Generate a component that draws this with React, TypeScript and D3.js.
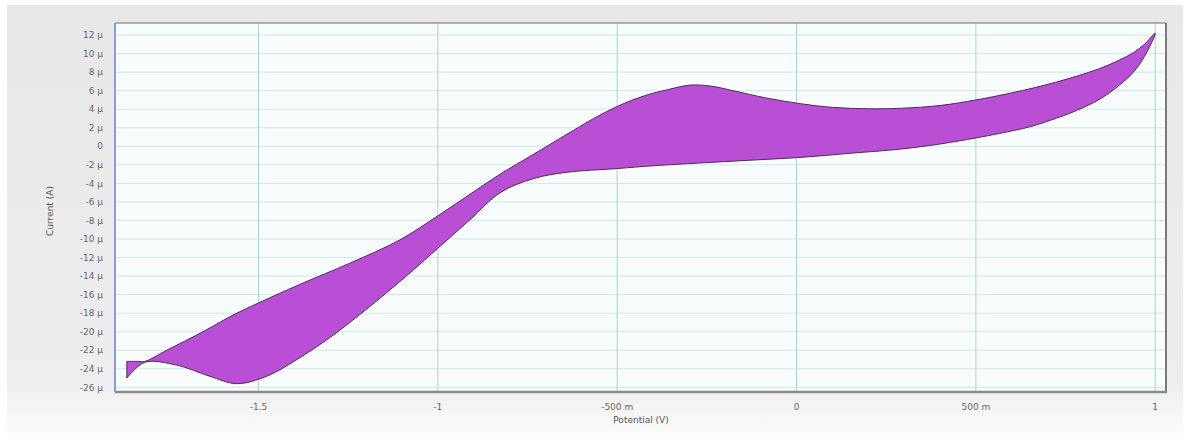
import * as d3 from "d3";

// forward scan (upper branch), potential in V, current in µA
const fwdV = [-1.867, -1.835, -1.817, -1.756, -1.65, -1.571, -1.5, -1.385, -1.245, -1.106, -1.0, -0.9, -0.826, -0.735, -0.64, -0.57, -0.5, -0.42, -0.36, -0.297, -0.24, -0.177, -0.083, 0.01, 0.1, 0.2, 0.29, 0.4, 0.5, 0.567, 0.65, 0.707, 0.78, 0.846, 0.9, 0.939, 0.97, 1.0];
const fwdI = [-23.2, -23.2, -23.2, -22.0, -19.9, -18.2, -16.9, -14.9, -12.6, -10.1, -7.5, -4.9, -3.0, -0.9, 1.3, 2.9, 4.3, 5.5, 6.1, 6.6, 6.5, 6.0, 5.2, 4.6, 4.2, 4.05, 4.1, 4.4, 5.0, 5.5, 6.2, 6.75, 7.55, 8.4, 9.3, 10.1, 11.0, 12.2];

// reverse scan (lower branch), going back from 1 V
const revV = [0.97, 0.939, 0.9, 0.846, 0.78, 0.707, 0.65, 0.567, 0.5, 0.4, 0.29, 0.15, 0.01, -0.13, -0.27, -0.4, -0.5, -0.64, -0.735, -0.826, -0.91, -1.0, -1.1, -1.2, -1.3, -1.393, -1.477, -1.561, -1.636, -1.728, -1.817, -1.867];
const revI = [9.7, 8.0, 6.6, 5.1, 3.85, 2.8, 2.1, 1.4, 0.9, 0.25, -0.3, -0.75, -1.2, -1.5, -1.8, -2.1, -2.4, -2.8, -3.5, -5.0, -7.9, -11.0, -14.4, -17.6, -20.6, -23.0, -24.8, -25.6, -24.8, -23.6, -23.3, -25.0];

const xTicks = [-1.5, -1, -0.5, 0, 0.5, 1];
const xTickLabels = ["-1.5", "-1", "-500 m", "0", "500 m", "1"];
const yTicks = d3.range(-26, 13, 2);

export default function App() {
  const width = 1190;
  const height = 440;
  const left = 115, right = 1166, top = 23, bottom = 392;

  const x = d3.scaleLinear([-1.9, 1.03], [left, right]);
  const y = d3.scaleLinear([-26.5, 13.3], [bottom, top]);

  const pts: [number, number][] = [
    ...fwdV.map((v, i) => [v, fwdI[i]] as [number, number]),
    ...revV.map((v, i) => [v, revI[i]] as [number, number]),
  ];
  const line = d3.line<[number, number]>(d => x(d[0]), d => y(d[1])).curve(d3.curveCatmullRom.alpha(0.5));
  const font = "DejaVu Sans, Verdana, sans-serif";

  return (
    <svg width={width} height={height} style={{ position: "absolute", left: 0, top: 0 }}>
      <defs>
        <linearGradient id="panel" x1="0" y1="0" x2="0" y2="1">
          <stop offset="0" stopColor="#e8e8e8" />
          <stop offset="0.88" stopColor="#eeeeee" />
          <stop offset="1" stopColor="#fbfbfb" />
        </linearGradient>
      </defs>
      <rect x={0} y={0} width={width} height={height} fill="#fff" />
      <rect x={7} y={5} width={1176} height={428} fill="url(#panel)" />
      <rect x={left} y={top} width={right - left} height={bottom - top} fill="#f8fcfc" />

      <g stroke="#cfe9e2" strokeWidth={1}>
        {yTicks.map(t => (
          <line key={t} x1={left} x2={right} y1={y(t)} y2={y(t)} />
        ))}
      </g>
      <g stroke="#a9d6cf" strokeWidth={1}>
        {xTicks.map(t => (
          <line key={t} x1={x(t)} x2={x(t)} y1={top} y2={bottom} />
        ))}
      </g>

      <path d={line(pts) + "Z"} fill="#b84fd4" stroke="#4f2a5c" strokeWidth={1} strokeLinejoin="round" />

      <line x1={left} x2={right} y1={top} y2={top} stroke="#9a9a9a" strokeWidth={1.5} />
      <line x1={right} x2={right} y1={top} y2={bottom + 1} stroke="#7a7a7a" strokeWidth={2} />
      <line x1={left} x2={right + 1} y1={bottom} y2={bottom} stroke="#8a8a8a" strokeWidth={2.5} />
      <line x1={left} x2={left} y1={top} y2={bottom} stroke="#8b9fcf" strokeWidth={2} />

      <g fontFamily={font} fontSize={9} fill="#666">
        {yTicks.map(t => (
          <text key={t} x={103} y={y(t)} dy="0.35em" textAnchor="end">
            {t === 0 ? "0" : `${t} µ`}
          </text>
        ))}
        {xTicks.map((t, i) => (
          <text key={t} x={x(t)} y={410} textAnchor="middle">
            {xTickLabels[i]}
          </text>
        ))}
        <text x={641} y={423} textAnchor="middle" fill="#555">Potential (V)</text>
        <text transform="translate(53,211) rotate(-90)" textAnchor="middle" fill="#555">Current (A)</text>
      </g>
    </svg>
  );
}
